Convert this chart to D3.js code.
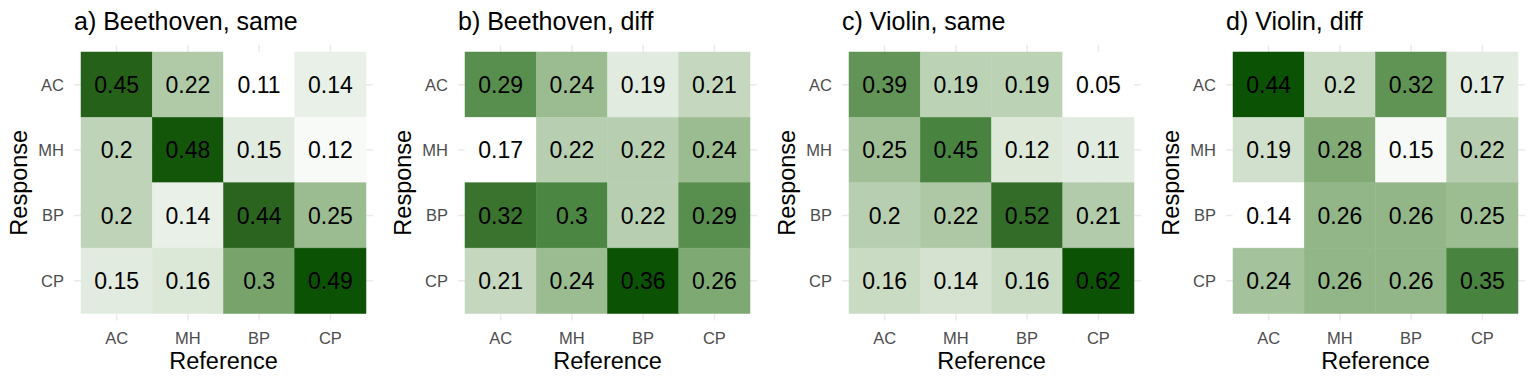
<!DOCTYPE html>
<html lang="en">
<head>
<meta charset="utf-8">
<title>Confusion heatmaps</title>
<script src="https://cdn.jsdelivr.net/npm/d3@7"></script>
<style>
  body { margin: 0; background: #fff; }
  text { font-family: "Liberation Sans", Arial, sans-serif; }
</style>
</head>
<body>
<script>

var width = 1536;
var height = 384;

// categories (rows = Response, columns = Reference)
var labels = ["AC", "MH", "BP", "CP"];
var titles = ["a) Beethoven, same", "b) Beethoven, diff", "c) Violin, same", "d) Violin, diff"];

// values, row by row (Response AC, MH, BP, CP), columns Reference AC, MH, BP, CP
var beethovenSame = [
    [0.45, 0.22, 0.11, 0.14],
    [0.2, 0.48, 0.15, 0.12],
    [0.2, 0.14, 0.44, 0.25],
    [0.15, 0.16, 0.3, 0.49]
];
var beethovenDiff = [
    [0.29, 0.24, 0.19, 0.21],
    [0.17, 0.22, 0.22, 0.24],
    [0.32, 0.3, 0.22, 0.29],
    [0.21, 0.24, 0.36, 0.26]
];
var violinSame = [
    [0.39, 0.19, 0.19, 0.05],
    [0.25, 0.45, 0.12, 0.11],
    [0.2, 0.22, 0.52, 0.21],
    [0.16, 0.14, 0.16, 0.62]
];
var violinDiff = [
    [0.44, 0.2, 0.32, 0.17],
    [0.19, 0.28, 0.15, 0.22],
    [0.14, 0.26, 0.26, 0.25],
    [0.24, 0.26, 0.26, 0.35]
];

var panels = [beethovenSame, beethovenDiff, violinSame, violinDiff];

// white -> dark green ramp (position 0..1 within each panel's range)
var rampStops = [0, 0.5, 0.684, 0.87, 1];
var rampColors = ["#ffffff", "#78a46c", "#4b8642", "#2b641f", "#0b5204"];

var svg = d3.select("body").append("svg")
    .attr("width", width)
    .attr("height", height);

var panelW = 384;
var expand = 7;

var x = d3.scaleBand().domain(labels).range([81, 366]);
var y = d3.scaleBand().domain(labels).range([52, 313.5]);

panels.forEach(function (m, i) {
    var g = svg.append("g").attr("transform", "translate(" + (i * panelW) + ",0)");

    var cells = [];
    m.forEach(function (row, r) {
        row.forEach(function (v, c) {
            cells.push({ resp: labels[r], ref: labels[c], value: v });
        });
    });

    var ext = d3.extent(cells, function (d) { return d.value; });
    var color = d3.scaleLinear()
        .domain(rampStops.map(function (t) { return ext[0] + t * (ext[1] - ext[0]); }))
        .range(rampColors)
        .interpolate(d3.interpolateLab);

    // grid
    g.selectAll("line.vg").data(labels).enter().append("line")
        .attr("x1", function (d) { return x(d) + x.bandwidth() / 2; })
        .attr("x2", function (d) { return x(d) + x.bandwidth() / 2; })
        .attr("y1", y.range()[0] - expand)
        .attr("y2", y.range()[1] + expand)
        .attr("stroke", "#ebebeb")
        .attr("stroke-width", 1.5);

    g.selectAll("line.hg").data(labels).enter().append("line")
        .attr("y1", function (d) { return y(d) + y.bandwidth() / 2; })
        .attr("y2", function (d) { return y(d) + y.bandwidth() / 2; })
        .attr("x1", x.range()[0] - expand)
        .attr("x2", x.range()[1] + expand)
        .attr("stroke", "#ebebeb")
        .attr("stroke-width", 1.5);

    // tiles
    g.selectAll("rect").data(cells).enter().append("rect")
        .attr("x", function (d) { return x(d.ref); })
        .attr("y", function (d) { return y(d.resp); })
        .attr("width", x.bandwidth())
        .attr("height", y.bandwidth())
        .attr("fill", function (d) { return color(d.value); })
        .attr("stroke", function (d) { return color(d.value); })
        .attr("stroke-width", 0.5);

    g.selectAll("text.cell").data(cells).enter().append("text")
        .attr("class", "cell")
        .attr("x", function (d) { return x(d.ref) + x.bandwidth() / 2; })
        .attr("y", function (d) { return y(d.resp) + y.bandwidth() / 2; })
        .attr("dy", "0.36em")
        .attr("text-anchor", "middle")
        .attr("font-size", 23)
        .attr("fill", "black")
        .text(function (d) { return d.value; });

    // tick labels
    g.selectAll("text.xt").data(labels).enter().append("text")
        .attr("x", function (d) { return x(d) + x.bandwidth() / 2; })
        .attr("y", 343.5)
        .attr("text-anchor", "middle")
        .attr("font-size", 16.5)
        .attr("fill", "#4d4d4d")
        .text(function (d) { return d; });

    g.selectAll("text.yt").data(labels).enter().append("text")
        .attr("x", 64)
        .attr("y", function (d) { return y(d) + y.bandwidth() / 2; })
        .attr("dy", "0.36em")
        .attr("text-anchor", "end")
        .attr("font-size", 16.5)
        .attr("fill", "#4d4d4d")
        .text(function (d) { return d; });

    // axis titles
    g.append("text")
        .attr("x", (x.range()[0] + x.range()[1]) / 2)
        .attr("y", 368.5)
        .attr("text-anchor", "middle")
        .attr("font-size", 23.5)
        .attr("fill", "black")
        .text("Reference");

    g.append("text")
        .attr("transform", "translate(27," + ((y.range()[0] + y.range()[1]) / 2) + ") rotate(-90)")
        .attr("text-anchor", "middle")
        .attr("font-size", 23.5)
        .attr("fill", "black")
        .text("Response");

    g.append("text")
        .attr("x", x.range()[0] - expand)
        .attr("y", 29.5)
        .attr("font-size", 25)
        .attr("fill", "black")
        .text(titles[i]);
});

</script>
</body>
</html>
